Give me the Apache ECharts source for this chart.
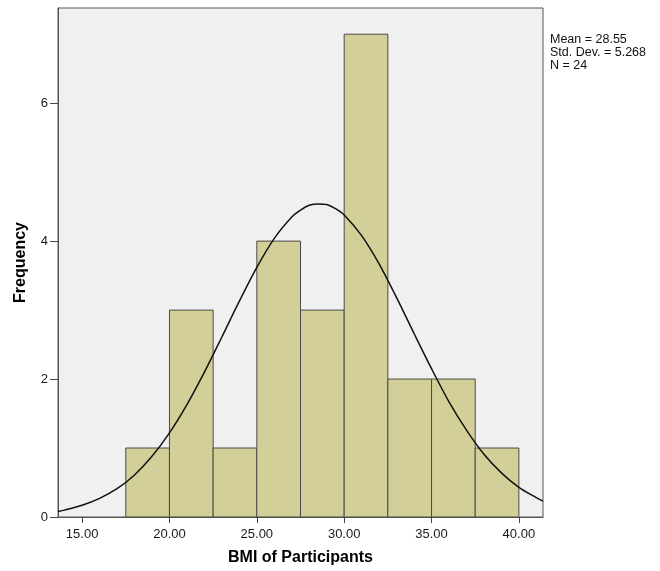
<!DOCTYPE html>
<html>
<head>
<meta charset="utf-8">
<script src="https://cdn.jsdelivr.net/npm/echarts@6/dist/echarts.min.js"></script>
<style>
  html, body { margin: 0; padding: 0; background: #fff; }
  #container { width: 660px; height: 571px; }
</style>
</head>
<body>
<div id="container"></div>
<script>
// histogram bins (BMI) and counts
var binStart = [17.5, 20, 22.5, 25, 27.5, 30, 32.5, 35, 37.5];
var binEnd = [20, 22.5, 25, 27.5, 30, 32.5, 35, 37.5, 40];
var counts = [1, 3, 1, 4, 3, 7, 2, 2, 1];

// normal curve points
var curveX = [13.62, 14, 15, 16, 17, 18, 19, 20, 21, 22, 23, 24, 25, 26, 27, 27.5, 28, 28.5, 29, 29.5, 30, 31, 32, 33, 34, 35, 36, 37, 38, 39, 40, 41, 41.38];
var curveY = [0.08, 0.10, 0.17, 0.27, 0.41, 0.61, 0.88, 1.22, 1.63, 2.10, 2.61, 3.13, 3.62, 4.04, 4.35, 4.45, 4.52, 4.54, 4.53, 4.47, 4.38, 4.08, 3.67, 3.18, 2.66, 2.15, 1.67, 1.26, 0.91, 0.64, 0.43, 0.28, 0.23];

var xTicks = [15, 20, 25, 30, 35, 40];
var statLines = ['Mean = 28.55', 'Std. Dev. = 5.268', 'N = 24'];

var dom = document.getElementById('container');
var myChart = echarts.init(dom, null, { renderer: 'canvas' });

var barData = [];
for (var i = 0; i < counts.length; i++) {
  barData.push([binStart[i], binEnd[i], counts[i]]);
}
var lineData = [];
for (var j = 0; j < curveX.length; j++) {
  lineData.push([curveX[j], curveY[j]]);
}

var font = 'Liberation Sans, Arial, sans-serif';

var option = {
  backgroundColor: '#ffffff',
  animation: false,
  grid: {
    left: 58, right: 117, top: 8, bottom: 54,
    outerBoundsMode: 'none',
    containLabel: false,
    show: true,
    backgroundColor: '#f0f0f0',
    borderColor: '#555555',
    borderWidth: 1
  },
  xAxis: {
    type: 'value',
    min: 13.62,
    max: 41.38,
    name: 'BMI of Participants',
    nameLocation: 'middle',
    nameGap: 33,
    nameTextStyle: { fontFamily: font, fontSize: 16, fontWeight: 'bold', color: '#000' },
    axisLine: { show: true, lineStyle: { color: '#555555' } },
    axisTick: { show: true, inside: false, length: 6, customValues: xTicks, lineStyle: { color: '#444444' } },
    axisLabel: {
      customValues: xTicks,
      margin: 11,
      fontFamily: font, fontSize: 13, color: '#1a1a1a',
      formatter: function (v) { return v.toFixed(2); }
    },
    splitLine: { show: false }
  },
  yAxis: {
    type: 'value',
    min: 0,
    max: 7.38,
    interval: 2,
    name: 'Frequency',
    nameLocation: 'middle',
    nameGap: 29,
    nameTextStyle: { fontFamily: font, fontSize: 16, fontWeight: 'bold', color: '#000' },
    axisLine: { show: true, lineStyle: { color: '#555555' } },
    axisTick: { show: true, inside: false, length: 8, lineStyle: { color: '#444444' } },
    axisLabel: {
      margin: 10, fontFamily: font, fontSize: 13, color: '#1a1a1a',
      showMaxLabel: false
    },
    splitLine: { show: false }
  },
  graphic: [{
    type: 'text',
    left: 550,
    top: 33,
    style: {
      text: statLines.join('\n'),
      font: '12.5px ' + font,
      fill: '#111',
      lineHeight: 13
    }
  }],
  series: [{
    type: 'custom',
    data: barData,
    encode: { x: [0, 1], y: 2 },
    renderItem: function (params, api) {
      var p0 = api.coord([api.value(0), 0]);
      var p1 = api.coord([api.value(1), api.value(2)]);
      return {
        type: 'rect',
        shape: { x: p0[0], y: p1[1], width: p1[0] - p0[0], height: p0[1] - p1[1] },
        style: { fill: '#d3cf98', stroke: '#4a4a4a', lineWidth: 1 }
      };
    },
    z: 2
  }, {
    type: 'line',
    data: lineData,
    smooth: 0.3,
    showSymbol: false,
    lineStyle: { color: '#111', width: 1.5 },
    z: 3
  }]
};

myChart.setOption(option);
window.addEventListener('resize', myChart.resize);
</script>
</body>
</html>
